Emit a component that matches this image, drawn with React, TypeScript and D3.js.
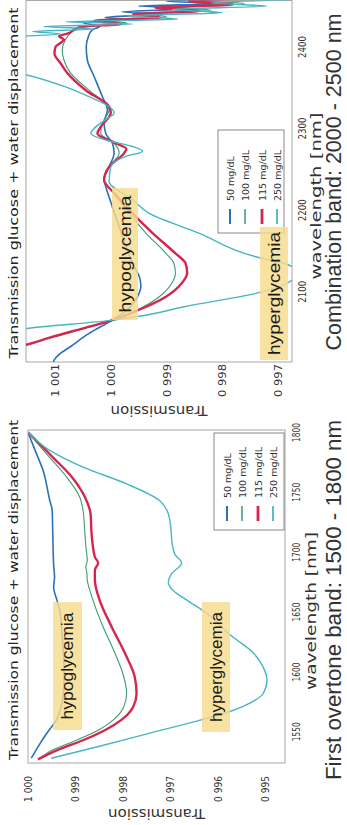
import React from "react";
import * as d3 from "d3";

// ---------- shared ----------
const seriesNames = ["50 mg/dL", "100 mg/dL", "115 mg/dL", "250 mg/dL"];
const seriesColors = ["#2a72b5", "#3e9a72", "#d6254e", "#46b6c4"];
const seriesWidths = [1.6, 1.1, 2.4, 1.4];

// ---------- First overtone band (1500 - 1800 nm) ----------
const ovWl50 = [1528, 1540, 1549, 1560, 1575, 1590, 1605, 1620, 1635, 1650, 1660, 1671, 1679, 1690, 1702, 1720, 1735, 1743, 1768, 1785, 1800];
const ovT50 = [0.99993, 0.99975, 0.9996, 0.9994, 0.99928, 0.99924, 0.99924, 0.99926, 0.99929, 0.99932, 0.99939, 0.99946, 0.99944, 0.99946, 0.99947, 0.99948, 0.99949, 0.99954, 0.99968, 0.99985, 1.0];
const ovWl100 = [1527, 1535, 1543, 1552, 1560, 1571, 1582, 1596, 1616, 1638, 1660, 1677, 1683, 1688, 1693, 1705, 1716, 1735, 1746, 1763, 1779, 1800];
const ovT100 = [0.99979, 0.99947, 0.99898, 0.99849, 0.9982, 0.99798, 0.99792, 0.99798, 0.99817, 0.99842, 0.99863, 0.99875, 0.99876, 0.99878, 0.99875, 0.99878, 0.9988, 0.99884, 0.99891, 0.99919, 0.99954, 1.0];
const ovWl115 = [1527, 1535, 1543, 1552, 1560, 1571, 1582, 1596, 1616, 1638, 1660, 1677, 1685, 1691, 1696, 1716, 1732, 1746, 1763, 1779, 1800];
const ovT115 = [0.99979, 0.99937, 0.99884, 0.99835, 0.99803, 0.99778, 0.99771, 0.99775, 0.99796, 0.99824, 0.99849, 0.99859, 0.99859, 0.99852, 0.99859, 0.99866, 0.99868, 0.9988, 0.99908, 0.99947, 1.0];
const ovWl250 = [1528, 1538, 1549, 1559, 1567, 1574, 1582, 1593, 1604, 1616, 1631, 1649, 1660, 1668, 1675, 1682, 1691, 1698, 1707, 1721, 1732, 1743, 1757, 1771, 1785, 1800];
const ovT250 = [0.99951, 0.99849, 0.99743, 0.99644, 0.99574, 0.99532, 0.99504, 0.99496, 0.99504, 0.99525, 0.99574, 0.99623, 0.99665, 0.99694, 0.99704, 0.99697, 0.99676, 0.9969, 0.99696, 0.99699, 0.99704, 0.99722, 0.99792, 0.99884, 0.99954, 1.0];
const ovXTicks = [1550, 1600, 1650, 1700, 1750, 1800];
const ovYTicks = [1.0, 0.999, 0.998, 0.997, 0.996, 0.995];
const ovYTickLabels = ["1 000", "0 999", "0 998", "0 997", "0 996", "0 995"];

// ---------- Combination band (2000 - 2500 nm) ----------
const cbWl50 = [2014, 2017, 2023, 2033, 2049, 2065, 2078, 2094, 2107, 2119, 2131, 2156, 2180, 2204, 2229, 2237, 2253, 2270, 2282, 2294, 2307, 2323, 2339, 2364, 2384, 2400, 2413, 2421, 2425, 2430, 2433, 2436, 2440, 2443, 2447, 2450, 2453, 2456, 2459];
const cbT50 = [1.00103, 1.00101, 1.00093, 1.00072, 1.00039, 0.99998, 0.9997, 0.99952, 0.99946, 0.99949, 0.99958, 0.99973, 0.99985, 0.99997, 1.00009, 1.00012, 1.00003, 0.99994, 0.99997, 1.00009, 1.00012, 1.00006, 1.00015, 1.0003, 1.00042, 1.00044, 1.0004, 1.00033, 1.0002, 1.0005, 0.9997, 1.0001, 0.9992, 0.9998, 0.9985, 0.9995, 0.998, 0.999, 0.9975];
const cbWl100 = [2030, 2035, 2045, 2055, 2065, 2078, 2094, 2111, 2123, 2135, 2147, 2172, 2196, 2221, 2237, 2253, 2270, 2282, 2294, 2307, 2323, 2347, 2368, 2384, 2396, 2409, 2417, 2421, 2425, 2429, 2433, 2437, 2441, 2445, 2449, 2453, 2457, 2460];
const cbT100 = [1.0018, 1.00152, 1.00101, 1.00048, 0.99998, 0.99952, 0.99913, 0.9989, 0.99884, 0.99887, 0.99901, 0.99937, 0.99967, 0.99994, 1.00012, 1.00003, 0.99985, 0.99994, 1.00018, 1.00015, 1.00003, 1.00039, 1.00072, 1.00084, 1.00087, 1.00081, 1.00072, 1.00063, 1.0004, 0.9997, 1.0002, 0.999, 0.9995, 0.9982, 0.9991, 0.9976, 0.9984, 0.997];
const cbWl115 = [2030, 2035, 2045, 2055, 2065, 2078, 2094, 2111, 2123, 2135, 2147, 2172, 2196, 2221, 2237, 2253, 2270, 2275, 2282, 2294, 2302, 2319, 2327, 2347, 2368, 2380, 2392, 2400, 2409, 2413, 2417, 2421, 2425, 2428, 2432, 2436, 2440, 2444, 2448, 2452, 2456, 2460];
const cbT115 = [1.0018, 1.00152, 1.00104, 1.00051, 0.99998, 0.99949, 0.99901, 0.99872, 0.99863, 0.99866, 0.99884, 0.99925, 0.99961, 0.99994, 1.00012, 1.00003, 0.99976, 0.99972, 0.99991, 1.00024, 1.00018, 1.0, 1.00003, 1.00045, 1.00078, 1.0009, 1.00101, 1.00099, 1.00084, 1.00093, 1.00075, 1.00066, 1.0005, 0.9998, 1.0003, 0.9991, 0.9996, 0.9984, 0.9992, 0.9978, 0.9986, 0.9972];
const cbWl250 = [2048, 2055, 2065, 2070, 2082, 2098, 2112, 2125, 2135, 2143, 2172, 2196, 2213, 2235, 2253, 2266, 2272, 2278, 2286, 2294, 2300, 2311, 2319, 2327, 2339, 2351, 2366, 2380, 2400, 2410, 2413, 2416, 2419, 2422, 2425, 2428, 2431, 2434, 2438, 2442, 2446, 2450, 2454, 2458];
const cbT250 = [1.002, 1.00152, 1.0, 0.99949, 0.99866, 0.9974, 0.9968, 0.99665, 0.9969, 0.9974, 0.99842, 0.99931, 0.99961, 1.00003, 1.0, 0.99973, 0.99943, 0.99961, 1.00009, 1.00036, 1.0003, 1.00009, 0.99994, 1.00003, 1.00039, 1.00081, 1.00152, 1.0025, 1.0024, 1.002, 1.0016, 1.0009, 1.0014, 1.0003, 1.0012, 0.9996, 1.0008, 0.9988, 0.9997, 0.998, 0.9989, 0.9972, 0.9982, 0.9965];
const cbXTicks = [2100, 2200, 2300, 2400];
const cbYTicks = [1.001, 1.0, 0.999, 0.998, 0.997];
const cbYTickLabels = ["1 001", "1 000", "0 999", "0 998", "0 997"];

const FONT = "DejaVu Sans";
const CAPTION_FONT = "Liberation Sans, Arial, sans-serif";

function Txt(props: any) {
  const { x, y, children, size, len, anchor = "middle", baseline = "central", rotate = 0, family = FONT, fill = "#222", weight = "normal" } = props;
  return (
    <text
      x={0}
      y={0}
      transform={`translate(${x},${y}) rotate(${rotate})`}
      fontSize={size}
      fontFamily={family}
      fontWeight={weight}
      textAnchor={anchor}
      dominantBaseline={baseline}
      fill={fill}
      textLength={len}
      lengthAdjust={len ? "spacingAndGlyphs" : undefined}
    >
      {children}
    </text>
  );
}

function Panel(p: any) {
  const x = d3.scaleLinear().domain(p.xDomain).range([p.u0, p.uScaleEnd]);
  const y = d3.scaleLinear().domain(p.yDomain).range([p.v0, p.v1]);
  const line = d3
    .line<[number, number]>()
    .x((d) => x(d[0]))
    .y((d) => y(d[1]))
    .curve(d3.curveMonotoneX);
  const clipId = p.id + "-clip";
  return (
    <g>
      <defs>
        <clipPath id={clipId}>
          <rect x={p.u0} y={p.v0} width={p.u1 - p.u0} height={p.v1 - p.v0} />
        </clipPath>
      </defs>
      <rect x={p.u0} y={p.v0} width={p.u1 - p.u0} height={p.v1 - p.v0} fill="#fff" stroke="#a8a8a8" strokeWidth={1} />
      <g clipPath={`url(#${clipId})`}>
        {p.series.map((s: any, i: number) => (
          <path
            key={i}
            d={line(s.wl.map((w: number, k: number) => [w, s.t[k]] as [number, number])) || ""}
            fill="none"
            stroke={seriesColors[i]}
            strokeWidth={seriesWidths[i]}
            strokeLinejoin="round"
          />
        ))}
      </g>
      {p.xTicks.map((t: number) => (
        <Txt key={t} x={x(t)} y={p.xTickV} size={10.5} len={p.xTickLen} fill="#333">
          {String(t)}
        </Txt>
      ))}
      {p.yTicks.map((t: number, i: number) => (
        <Txt key={t} x={p.yTickU} y={y(t)} size={10.5} len={p.yTickLen} anchor="end" fill="#333">
          {p.yTickLabels[i]}
        </Txt>
      ))}
      <Txt x={p.yLabelU} y={(p.v0 + p.v1) / 2} size={14} len={97} rotate={-90} fill="#333">
        Transmission
      </Txt>
      <Txt x={p.xLabelU} y={p.xLabelV} size={14} len={p.xLabelLen} fill="#333">
        wavelength [nm]
      </Txt>
      <Txt x={p.titleU} y={13} size={13} len={p.titleLen} fill="#222">
        Transmission glucose + water displacement
      </Txt>
      <rect x={p.legend.u0} y={p.legend.v0} width={p.legend.u1 - p.legend.u0} height={p.legend.v1 - p.legend.v0} fill="#fff" stroke="#888" strokeWidth={1} />
      {seriesNames.map((n, i) => (
        <g key={n}>
          <line
            x1={p.legend.u0 + 9}
            x2={p.legend.u0 + 24}
            y1={p.legend.rows[i]}
            y2={p.legend.rows[i]}
            stroke={seriesColors[i]}
            strokeWidth={seriesWidths[i] + 0.4}
          />
          <Txt x={p.legend.u0 + 32} y={p.legend.rows[i]} size={9.5} anchor="start" fill="#333">
            {n}
          </Txt>
        </g>
      ))}
      {p.boxes.map((b: any) => (
        <g key={b.text}>
          <rect x={b.u0} y={b.v0} width={b.u1 - b.u0} height={b.v1 - b.v0} fill="#f6dc8e" opacity={0.82} />
          <Txt x={(b.u0 + b.u1) / 2} y={(b.v0 + b.v1) / 2} size={17} len={b.len} family={CAPTION_FONT} fill="#1a1a1a">
            {b.text}
          </Txt>
        </g>
      ))}
      <Txt x={p.captionU} y={333} size={22} len={p.captionLen} family={CAPTION_FONT} fill="#333">
        {p.caption}
      </Txt>
    </g>
  );
}

export default function App() {
  const ovSeries = [
    { wl: ovWl50, t: ovT50 },
    { wl: ovWl100, t: ovT100 },
    { wl: ovWl115, t: ovT115 },
    { wl: ovWl250, t: ovT250 },
  ];
  const cbSeries = [
    { wl: cbWl50, t: cbT50 },
    { wl: cbWl100, t: cbT100 },
    { wl: cbWl115, t: cbT115 },
    { wl: cbWl250, t: cbT250 },
  ];
  return (
    <svg width={347} height={825} style={{ position: "absolute", left: 0, top: 0, background: "#fff" }}>
      <rect x={0} y={0} width={347} height={825} fill="#fff" />
      <g transform="translate(0,825) rotate(-90)">
        <Panel
          id="ov"
          u0={62}
          u1={395}
          uScaleEnd={395}
          v0={28}
          v1={285}
          xDomain={[1524, 1802]}
          yDomain={[1.0, 0.99458]}
          series={ovSeries}
          xTicks={ovXTicks}
          yTicks={ovYTicks}
          yTickLabels={ovYTickLabels}
          xTickV={296}
          xTickLen={19}
          yTickU={49}
          yTickLen={26}
          yLabelU={11}
          xLabelU={214}
          xLabelV={311}
          xLabelLen={158}
          titleU={235}
          titleLen={340}
          legend={{ u0: 295, u1: 392, v0: 214, v1: 284, rows: [227, 242, 258, 273] }}
          boxes={[
            { u0: 95, u1: 223, v0: 53, v1: 82, text: "hypoglycemia", len: 107 },
            { u0: 93, u1: 223, v0: 202, v1: 230, text: "hyperglycemia", len: 110 },
          ]}
          caption="First overtone band: 1500 - 1800 nm"
          captionU={225}
          captionLen={360}
        />
        <Panel
          id="cb"
          u0={463}
          u1={824.5}
          uScaleEnd={825}
          v0={26}
          v1={292}
          xDomain={[2014, 2457.5]}
          yDomain={[1.00152, 0.99675]}
          series={cbSeries}
          xTicks={cbXTicks}
          yTicks={cbYTicks}
          yTickLabels={cbYTickLabels}
          xTickV={302}
          xTickLen={22}
          yTickU={461}
          yTickLen={33}
          yLabelU={414}
          xLabelU={629}
          xLabelV={316}
          xLabelLen={167}
          titleU={642}
          titleLen={351}
          legend={{ u0: 592, u1: 695, v0: 218, v1: 284, rows: [230, 245, 262, 277] }}
          boxes={[
            { u0: 505, u1: 637, v0: 112, v1: 138, text: "hypoglycemia", len: 117 },
            { u0: 465, u1: 598, v0: 260, v1: 288, text: "hyperglycemia", len: 123 },
          ]}
          caption="Combination band: 2000 - 2500 nm"
          captionU={643}
          captionLen={337}
        />
      </g>
    </svg>
  );
}
